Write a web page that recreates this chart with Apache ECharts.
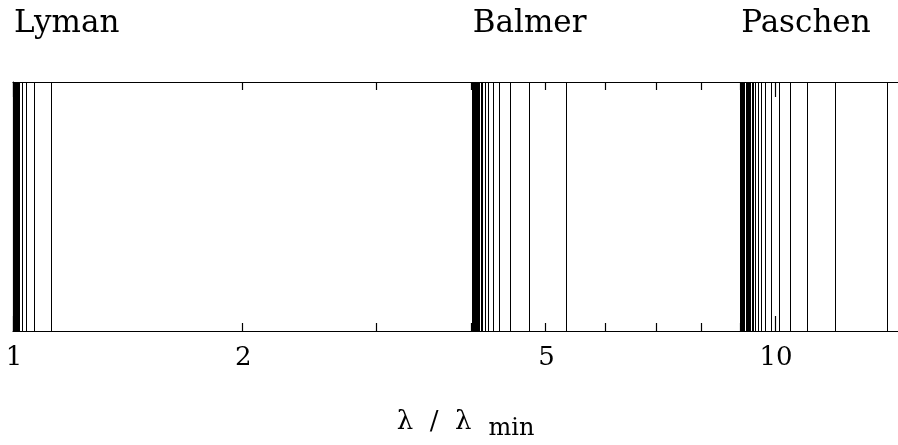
<!DOCTYPE html>
<html>
<head>
<meta charset="utf-8">
<script src="https://cdn.jsdelivr.net/npm/echarts@6/dist/echarts.min.js"></script>
<style>
  html, body { margin: 0; padding: 0; background: #fff; }
  #main { width: 898px; height: 445px; }
</style>
</head>
<body>
<div id="main"></div>
<script>
// line positions in units of lambda / lambda_min
var lymanLines = [1.125, 1.0667, 1.0417, 1.0286, 1.0208, 1.0159, 1.0125, 1.0101, 1.0083, 1.0070,
  1.0060, 1.0051, 1.0045, 1.0039, 1.0035, 1.0031, 1.0028, 1.0025, 1.0021, 1.0016, 1.0011];
var balmerLines = [5.3333, 4.7619, 4.5, 4.3556, 4.2667, 4.2078, 4.1667, 4.1368, 4.1143, 4.0970,
  4.0833, 4.0724, 4.0635, 4.0561, 4.05, 4.0448, 4.0404, 4.0333, 4.0258, 4.0179, 4.0131, 4.0100, 4.0064];
var paschenLines = [14.0625, 12.0, 11.025, 10.4727, 10.125, 9.8901, 9.7232, 9.6, 9.5063, 9.4332,
  9.375, 9.3279, 9.2893, 9.2571, 9.2301, 9.2072, 9.1705, 9.1315, 9.0909, 9.0666, 9.0509, 9.0325, 9.0226];

var seriesNames = ['Lyman', 'Balmer', 'Paschen'];
var seriesEdges = [1, 4, 9];

var tickValues = [1, 2, 3, 4, 5, 6, 7, 8, 9, 10];
var majorTicks = [1, 10];
var tickLabels = [1, 2, 5, 10];

var xMin = 1, xMax = 14.5;

var serif = '"DejaVu Serif", serif';

var allLines = lymanLines.concat(balmerLines, paschenLines).map(function (v) { return [v, 0]; });

var myChart = echarts.init(document.getElementById('main'));

function crisp(x) {
  return Math.round(x - 0.5) + 0.5;
}

var axisBase = {
  type: 'log',
  logBase: 10,
  min: xMin,
  max: xMax,
  axisLine: { show: true, lineStyle: { color: '#000', width: 1.2 } },
  axisTick: { show: false },
  axisLabel: { show: false },
  splitLine: { show: false },
  minorTick: { show: false }
};

var option = {
  backgroundColor: '#fff',
  animation: false,
  grid: { left: 13, right: 0, top: 82, bottom: 114, outerBoundsMode: 'none', containLabel: false },
  xAxis: [
    Object.assign({}, axisBase, {
      position: 'bottom',
      name: '{a|λ  /  λ}{b|min}',
      nameLocation: 'middle',
      nameGap: 78,
      nameTextStyle: {
        rich: {
          a: { fontFamily: serif, fontSize: 26, color: '#000', verticalAlign: 'top', lineHeight: 28, padding: [0, 0, 0, 20] },
          b: { fontFamily: serif, fontSize: 24, color: '#000', verticalAlign: 'bottom', lineHeight: 32, padding: [0, 0, 0, 17] }
        }
      }
    }),
    Object.assign({}, axisBase, { position: 'top' })
  ],
  yAxis: {
    type: 'value',
    min: 0,
    max: 1,
    axisLine: { show: true, lineStyle: { color: '#000', width: 1.2 } },
    axisTick: { show: false },
    axisLabel: { show: false },
    splitLine: { show: false }
  },
  series: [
    {
      // spectral lines
      type: 'custom',
      xAxisIndex: 0,
      data: allLines,
      clip: true,
      renderItem: function (params, api) {
        var x = api.value(0);
        var p0 = api.coord([x, 0]);
        var p1 = api.coord([x, 1]);
        var cx = crisp(p0[0]);
        return {
          type: 'line',
          shape: { x1: cx, y1: p0[1], x2: cx, y2: p1[1] },
          style: { stroke: '#000', lineWidth: 1 }
        };
      }
    },
    {
      // ticks on top and bottom
      type: 'custom',
      xAxisIndex: 0,
      data: tickValues.map(function (v) { return [v, 0]; }),
      renderItem: function (params, api) {
        var x = api.value(0);
        var len = majorTicks.indexOf(x) >= 0 ? 15 : 8;
        var pb = api.coord([x, 0]);
        var pt = api.coord([x, 1]);
        var cx = crisp(pb[0]);
        return {
          type: 'group',
          children: [
            { type: 'line', shape: { x1: cx, y1: pb[1], x2: cx, y2: pb[1] - len }, style: { stroke: '#000', lineWidth: 1.2 } },
            { type: 'line', shape: { x1: cx, y1: pt[1], x2: cx, y2: pt[1] + len }, style: { stroke: '#000', lineWidth: 1.2 } }
          ]
        };
      }
    },
    {
      // tick labels
      type: 'custom',
      xAxisIndex: 0,
      data: tickLabels.map(function (v) { return [v, 0]; }),
      clip: false,
      renderItem: function (params, api) {
        var x = api.value(0);
        var p = api.coord([x, 0]);
        return {
          type: 'text',
          x: p[0] + 1,
          y: p[1] + 27,
          style: {
            text: String(x),
            fill: '#000',
            font: '26px ' + serif,
            align: 'center',
            verticalAlign: 'middle'
          }
        };
      }
    },
    {
      // series names
      type: 'custom',
      xAxisIndex: 0,
      data: seriesEdges.map(function (v, i) { return [v, 0, i]; }),
      clip: false,
      renderItem: function (params, api) {
        var x = api.value(0);
        var p = api.coord([x, 1]);
        return {
          type: 'text',
          x: p[0] + 1,
          y: p[1] - 58,
          style: {
            text: seriesNames[params.dataIndex],
            fill: '#000',
            font: '31px ' + serif,
            align: 'left',
            verticalAlign: 'middle'
          }
        };
      }
    }
  ]
};

myChart.setOption(option);
</script>
</body>
</html>
